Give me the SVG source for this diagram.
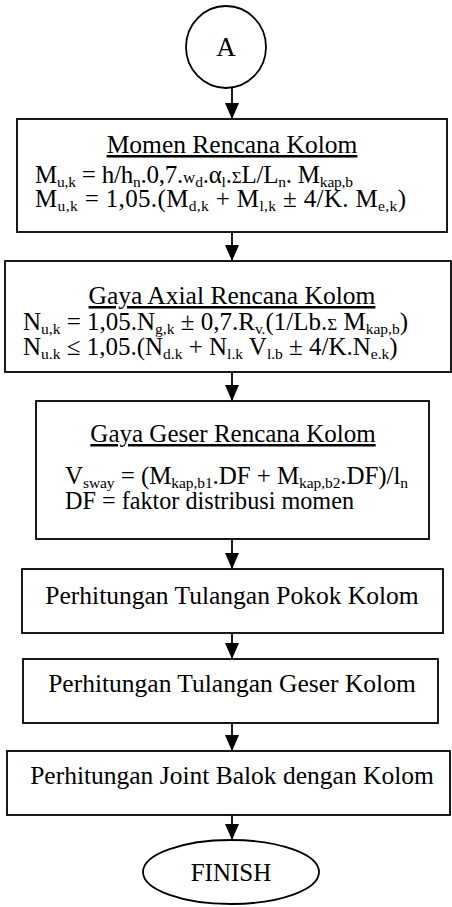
<svg xmlns="http://www.w3.org/2000/svg" width="452" height="907" viewBox="0 0 452 907">
<defs>
<marker id="ah" markerUnits="userSpaceOnUse" markerWidth="16" markerHeight="18" refX="16" refY="7" orient="auto">
<path d="M0,0 L16,7 L0,14 Z" fill="#000"/>
</marker>
<style>
.b{fill:#fff;stroke:#000;stroke-width:1.8}
.c{stroke:#000;stroke-width:1.8;fill:none}
text{font-family:"Liberation Serif","Times New Roman",serif;font-size:25px;fill:#000}
.m{text-anchor:middle}
.s{font-size:15.5px}
.g{font-size:17px}
.u{text-decoration:underline}
</style>
</defs>
<rect width="452" height="907" fill="#fff"/>
<g id="connectors">
<line class="c" x1="232" y1="88" x2="232" y2="119" marker-end="url(#ah)"/>
<line class="c" x1="232" y1="232" x2="232" y2="261" marker-end="url(#ah)"/>
<line class="c" x1="232" y1="372" x2="232" y2="401" marker-end="url(#ah)"/>
<line class="c" x1="232" y1="539" x2="232" y2="569" marker-end="url(#ah)"/>
<line class="c" x1="232" y1="633" x2="232" y2="659" marker-end="url(#ah)"/>
<line class="c" x1="232" y1="723" x2="232" y2="751" marker-end="url(#ah)"/>
<line class="c" x1="232" y1="815" x2="232" y2="840" marker-end="url(#ah)"/>
</g>
<g id="startA">
<ellipse class="b" cx="226" cy="47" rx="40" ry="41"/>
<text class="m" x="226" y="56" style="font-size:27px">A</text>
</g>
<g id="momen">
<rect class="b" x="17" y="119" width="430" height="113"/>
<text class="m u" x="232" y="153" style="font-size:25.5px">Momen Rencana Kolom</text>
<text x="35" y="183" textLength="318" lengthAdjust="spacing">M<tspan class="s" dy="4">u,k</tspan><tspan dy="-4"> = h/h</tspan><tspan class="s" dy="4">n</tspan><tspan dy="-4">.0,7.</tspan><tspan class="g">w</tspan><tspan class="s" dy="4">d</tspan><tspan dy="-4">.α</tspan><tspan class="s" dy="4">l</tspan><tspan dy="-4">.</tspan><tspan class="g">Σ</tspan><tspan>L/L</tspan><tspan class="s" dy="4">n</tspan><tspan dy="-4">. M</tspan><tspan class="s" dy="4">kap,b</tspan></text>
<text x="35" y="207" textLength="371" lengthAdjust="spacing">M<tspan class="s" dy="4">u,k</tspan><tspan dy="-4"> = 1,05.(M</tspan><tspan class="s" dy="4">d,k</tspan><tspan dy="-4"> + M</tspan><tspan class="s" dy="4">l,k</tspan><tspan dy="-4"> ± 4/K. M</tspan><tspan class="s" dy="4">e,k</tspan><tspan dy="-4">)</tspan></text>
</g>
<g id="axial">
<rect class="b" x="5" y="261" width="446" height="111"/>
<text class="m u" x="232" y="304" style="font-size:25.5px">Gaya Axial Rencana Kolom</text>
<text x="23" y="330">N<tspan class="s" dy="4">u,k</tspan><tspan dy="-4"> = 1,05.N</tspan><tspan class="s" dy="4">g,k</tspan><tspan dy="-4"> ± 0,7.R</tspan><tspan class="s" dy="4">v.</tspan><tspan dy="-4">(1/Lb.</tspan><tspan class="g">Σ</tspan><tspan> M</tspan><tspan class="s" dy="4">kap,b</tspan><tspan dy="-4">)</tspan></text>
<text x="23" y="355">N<tspan class="s" dy="4">u.k</tspan><tspan dy="-4">  ≤ 1,05.(N</tspan><tspan class="s" dy="4">d.k</tspan><tspan dy="-4"> + N</tspan><tspan class="s" dy="4">l.k</tspan><tspan dy="-4"> V</tspan><tspan class="s" dy="4">l.b</tspan><tspan dy="-4"> ± 4/K.N</tspan><tspan class="s" dy="4">e.k</tspan><tspan dy="-4">)</tspan></text>
</g>
<g id="geser">
<rect class="b" x="36" y="401" width="393" height="138"/>
<text class="m u" x="233" y="442">Gaya Geser Rencana Kolom</text>
<text x="65" y="484" textLength="343" lengthAdjust="spacing">V<tspan class="s" dy="4">sway</tspan><tspan dy="-4"> = (M</tspan><tspan class="s" dy="4">kap,b1</tspan><tspan dy="-4">.DF + M</tspan><tspan class="s" dy="4">kap,b2</tspan><tspan dy="-4">.DF)/l</tspan><tspan class="s" dy="4">n</tspan></text>
<text x="65" y="509" textLength="289" lengthAdjust="spacingAndGlyphs">DF = faktor distribusi momen</text>
</g>
<g id="pokok">
<rect class="b" x="22" y="569" width="421" height="64"/>
<text class="m" x="232" y="604" style="font-size:25.5px">Perhitungan Tulangan Pokok Kolom</text>
</g>
<g id="tulgeser">
<rect class="b" x="23" y="659" width="415" height="64"/>
<text class="m" x="232" y="692" style="font-size:25.5px">Perhitungan Tulangan Geser Kolom</text>
</g>
<g id="joint">
<rect class="b" x="7" y="751" width="443" height="64"/>
<text class="m" x="232" y="784" style="font-size:25.5px">Perhitungan Joint Balok dengan Kolom</text>
</g>
<g id="finish">
<ellipse class="b" cx="231" cy="872" rx="88" ry="32"/>
<text class="m" x="231" y="881">FINISH</text>
</g>
</svg>
